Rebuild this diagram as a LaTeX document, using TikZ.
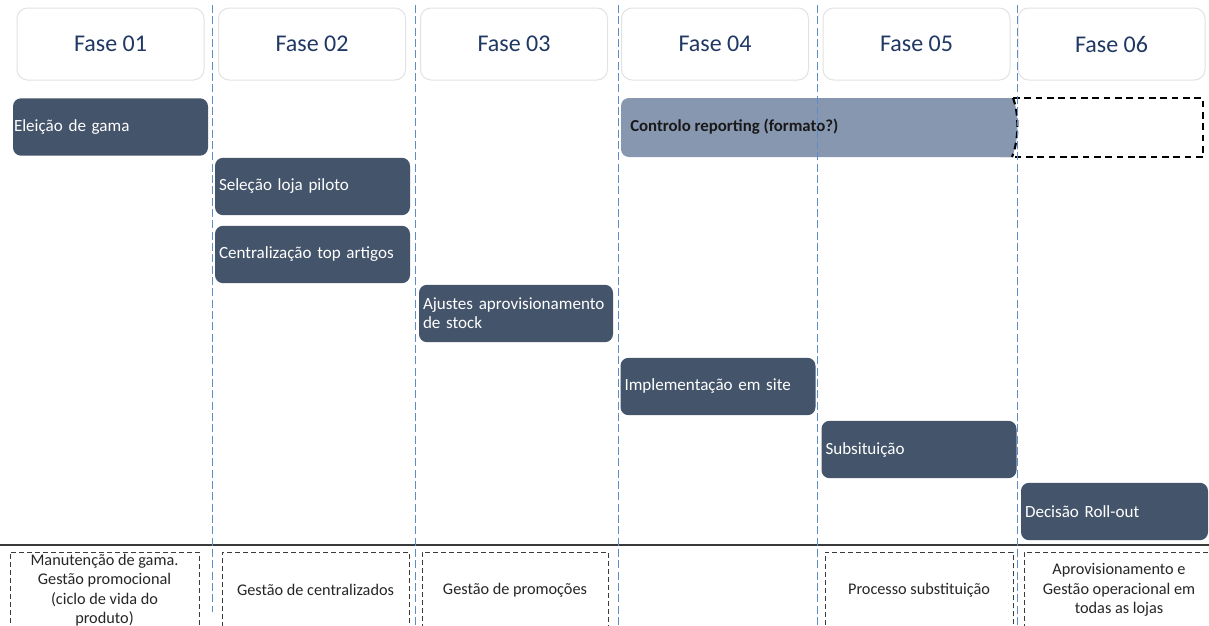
\documentclass[tikz,border=0pt]{standalone}
\usepackage{fontspec}
\setmainfont{Carlito}
\definecolor{taskc}{HTML}{44546A}
\definecolor{ctrlc}{HTML}{8797B0}
\definecolor{phasetxt}{HTML}{1F3864}
\definecolor{phaseborder}{HTML}{E2E2E2}
\definecolor{sepc}{HTML}{5F8CC6}
\definecolor{notec}{HTML}{3A3A3A}
\definecolor{notetxt}{HTML}{262626}
\begin{document}
\begin{tikzpicture}[x=0.75pt,y=-0.75pt,
  phase/.style={draw=phaseborder, line width=0.75pt, fill=white, rounded corners=8pt,
    minimum width=140.25pt, minimum height=54pt, inner sep=0pt,
    text=phasetxt, font=\fontsize{18pt}{22pt}\selectfont},
  task/.style={fill=taskc, rounded corners=6pt, text=white, align=left,
    minimum height=43pt, inner xsep=3pt, inner ysep=0pt,
    font=\fontsize{12.8pt}{14.5pt}\selectfont},
  note/.style={draw=notec, line width=0.75pt, dash pattern=on 3.75pt off 2.25pt,
    minimum height=57pt, inner sep=0pt, align=center, text=notetxt,
    font=\fontsize{12.2pt}{14.5pt}\selectfont},
  sepline/.style={draw=sepc, line width=0.8pt, dash pattern=on 6pt off 2.5pt},
  bolddash/.style={draw=black, line width=1.6pt, dash pattern=on 5pt off 3.5pt}
]
\clip (0,0) rectangle (1209,625);
\fill[white] (0,0) rectangle (1209,625);

% phase headers
\node[phase] (f1) at (110.5,44) {Fase 01};
\node[phase] (f2) at (312,44) {Fase 02};
\node[phase] (f3) at (514,44) {Fase 03};
\node[phase] (f4) at (715,44) {Fase 04};
\node[phase] (f5) at (916.5,44) {Fase 05};
\node[phase] (f6) at (1111.5,44) {Fase 06};

% controlo reporting bar
\fill[ctrlc, rounded corners=6pt] (1013,98) -- (621,98) -- (621,157) -- (1012,157);
\fill[ctrlc] (1000,98) -- (1013,98) .. controls (1019,113) and (1019,140) .. (1012,157) -- (1000,157) -- cycle;
\node[anchor=west, inner sep=0pt, text=black!90, font=\fontsize{12.6pt}{14pt}\selectfont\bfseries] (ctrl) at (630,127) {Controlo reporting (formato?)};
\draw[bolddash] (1013,98) .. controls (1019,113) and (1019,140) .. (1012,157);
\draw[bolddash] (1013,98) -- (1203,98) -- (1203,157) -- (1012,157);

% tasks
\node[task, inner xsep=0.75pt, text width=144.75pt] (t1) at (110.5,127) {Eleição de gama};
\node[task, text width=140.25pt] (t2) at (312.5,186.5) {Seleção loja piloto};
\node[task, text width=140.25pt] (t3) at (312.5,254.5) {Centralização top artigos};
\node[task, text width=139.5pt] (t4) at (516,313.5) {Ajustes aprovisionamento\\de stock};
\node[task, text width=140.25pt] (t5) at (718,386.5) {Implementação em site};
\node[task, text width=140.25pt] (t6) at (919,449.5) {Subsituição};
\node[task, text width=134.25pt] (t7) at (1114.5,511.5) {Decisão Roll-out};

% horizontal separator
\draw[notec, line width=1pt] (0,545) -- (1209,545);

% bottom notes
\node[note, minimum width=141.75pt] (n1) at (104.5,590) {Manutenção de gama.\\Gestão promocional\\(ciclo de vida do\\produto)};
\node[note, minimum width=140.25pt] (n2) at (315.5,590) {Gestão de centralizados};
\node[note, minimum width=139.5pt] (n3) at (515,590) {Gestão de promoções};
\node[note, minimum width=141pt] (n5) at (919,590) {Processo substituição};
\node[note, minimum width=142.5pt] (n6) at (1119,590) {Aprovisionamento e\\Gestão operacional em\\todas as lojas};

% vertical phase separators
\draw[sepline] (212.5,5) -- (212.5,612);
\draw[sepline] (415.5,5) -- (415.5,630);
\draw[sepline] (618.5,5) -- (618.5,630);
\draw[sepline] (817.5,5) -- (817.5,630);
\draw[sepline] (1017.5,5) -- (1017.5,630);
\end{tikzpicture}
\end{document}
